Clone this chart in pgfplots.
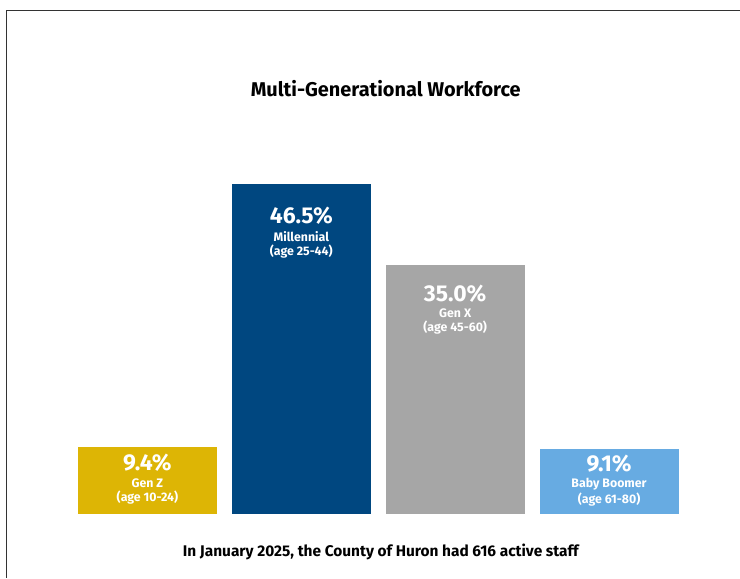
\documentclass[border=0pt]{standalone}
\usepackage{pgfplots}
\pgfplotsset{compat=1.18}
\usepackage{fontspec}
\setmainfont{Fira Sans}
\definecolor{genz}{RGB}{221,181,5}
\definecolor{mill}{RGB}{0,71,128}
\definecolor{genx}{RGB}{166,166,166}
\definecolor{boom}{RGB}{103,171,226}
\begin{document}
\begin{tikzpicture}[x=1bp,y=1bp]
\path (0,0) rectangle (740,578);
\draw[color=black!80, line width=1bp] (7,0) -- (7,567) -- (740,567);
\node[font=\fontsize{20}{23}\selectfont\bfseries] at (386,489) {Multi-Generational Workforce};
\node[font=\fontsize{15.5}{18}\selectfont\bfseries] at (381,26) {In January 2025, the County of Huron had 616 active staff};
\begin{axis}[
  at={(70.5bp,64bp)}, anchor=south west,
  scale only axis, width=616bp, height=354.85bp,
  xmin=-0.5, xmax=3.5, ymin=0, ymax=50,
  hide axis, clip=false,
  every axis plot/.append style={ybar, bar width=139bp, bar shift=0pt, draw=none},
]
\addplot[fill=genz] coordinates {(0,9.4)};
\addplot[fill=mill] coordinates {(1,46.5)};
\addplot[fill=genx] coordinates {(2,35.0)};
\addplot[fill=boom] coordinates {(3,9.1)};
\tikzset{pct/.style={text=white,font=\fontsize{23}{26}\selectfont\bfseries,inner sep=0pt},
         sub/.style={text=white,font=\fontsize{12.4}{14}\selectfont\bfseries,inner sep=0pt}}
% Gen Z
\node[pct] at (axis cs:0,9.4) [yshift=-16bp] {9.4\%};
\node[sub] at (axis cs:0,9.4) [yshift=-36bp] {Gen Z};
\node[sub] at (axis cs:0,9.4) [yshift=-51bp] {(age 10-24)};
% Millennial
\node[pct] at (axis cs:1,46.5) [yshift=-32bp] {46.5\%};
\node[sub] at (axis cs:1,46.5) [yshift=-53bp] {Millennial};
\node[sub] at (axis cs:1,46.5) [yshift=-68bp] {(age 25-44)};
% Gen X
\node[pct] at (axis cs:2,35.0) [yshift=-28bp] {35.0\%};
\node[sub] at (axis cs:2,35.0) [yshift=-48bp] {Gen X};
\node[sub] at (axis cs:2,35.0) [yshift=-62bp] {(age 45-60)};
% Baby Boomer
\node[pct] at (axis cs:3,9.1) [yshift=-15bp] {9.1\%};
\node[sub] at (axis cs:3,9.1) [yshift=-35bp] {Baby Boomer};
\node[sub] at (axis cs:3,9.1) [yshift=-50bp] {(age 61-80)};
\end{axis}
\end{tikzpicture}
\end{document}
